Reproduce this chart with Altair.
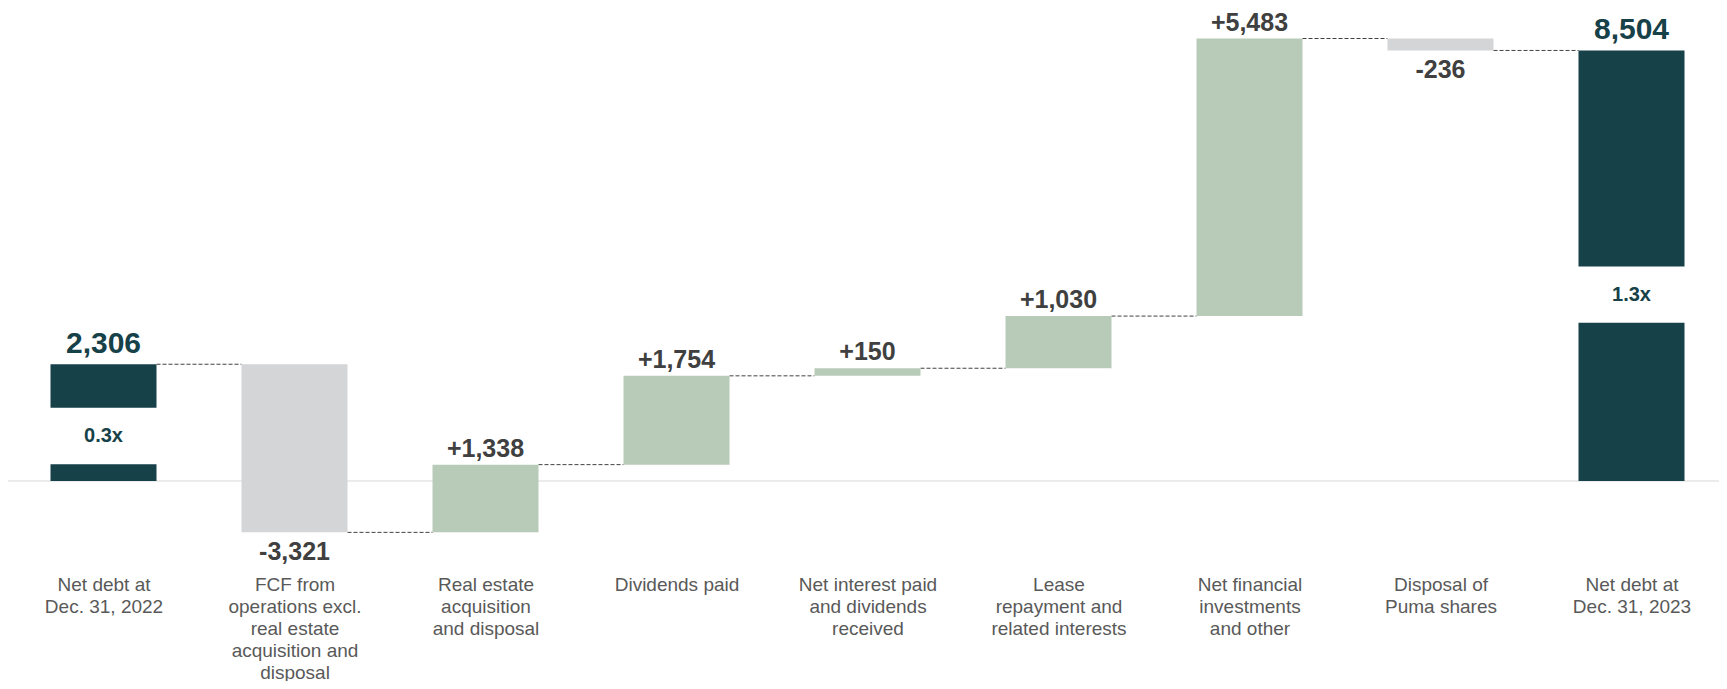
import json
import altair as alt
import pandas as pd

# ---- data ----
categories = [
    "Net debt at\nDec. 31, 2022",
    "FCF from\noperations excl.\nreal estate\nacquisition and\ndisposal",
    "Real estate\nacquisition\nand disposal",
    "Dividends paid",
    "Net interest paid\nand dividends\nreceived",
    "Lease\nrepayment and\nrelated interests",
    "Net financial\ninvestments\nand other",
    "Disposal of\nPuma shares",
    "Net debt at\nDec. 31, 2023",
]
kinds = ["total", "decrease", "increase", "increase", "increase",
         "increase", "increase", "decrease", "total"]
amounts = [2306, -3321, 1338, 1754, 150, 1030, 5483, -236, 8504]
leverage_labels = ["0.3x", "", "", "", "", "", "", "", "1.3x"]
leverage_gap_low = [332, None, None, None, None, None, None, None, 3125]
leverage_gap_high = [1445, None, None, None, None, None, None, None, 4238]

kind_domain = ["total", "increase", "decrease"]
kind_colors = ["#174148", "#B7CBB8", "#D4D5D7"]

# ---- build the waterfall table ----
rows = []
running = 0
for i, (cat, kind, amt) in enumerate(zip(categories, kinds, amounts)):
    if kind == "total":
        start, end = 0, amt
        label = f"{amt:,}"
    else:
        start, end = running, running + amt
        label = f"{amt:+,}"
    running = end
    rows.append({
        "idx": i, "kind": kind, "start": start, "end": end,
        "lo": min(start, end), "hi": max(start, end), "label": label,
        "lev": leverage_labels[i], "gap_lo": leverage_gap_low[i],
        "gap_hi": leverage_gap_high[i],
    })
df = pd.DataFrame(rows)
conn = df.iloc[:-1].copy()

HW = 0.2775
PLOT_W = 1711
PLOT_H = 561
STEP = 191
xscale = alt.Scale(domain=[-0.5, -0.5 + PLOT_W / STEP], nice=False, zero=False)
yscale = alt.Scale(domain=[-1778, 9303], nice=False, zero=False)
label_arr = json.dumps([c.split("\n") for c in categories])

base = alt.Chart(df).transform_calculate(
    xa=f"datum.idx - {HW}", xb=f"datum.idx + {HW}",
    ga=f"datum.idx - {HW} - 0.01", gb=f"datum.idx + {HW} + 0.01",
)

zero = alt.Chart(pd.DataFrame({"y": [0]})).mark_rule(
    color="#D9D9D9", strokeWidth=1
).encode(y=alt.Y("y:Q", scale=yscale, axis=None))

connectors = alt.Chart(conn).transform_calculate(
    xa=f"datum.idx + {HW}", xb=f"datum.idx + 1 - {HW}"
).mark_rule(color="#404040", strokeWidth=1, strokeDash=[4, 2]).encode(
    x=alt.X("xa:Q", scale=xscale, title=None),
    x2="xb:Q",
    y=alt.Y("end:Q", scale=yscale, axis=None),
)

bars = base.mark_bar().encode(
    x=alt.X("xa:Q", scale=xscale, title=None,
            axis=alt.Axis(values=list(range(9)),
                          labelExpr=f"{label_arr}[datum.value]",
                          grid=False, domain=False, ticks=False,
                          labelFontSize=19, labelColor="#595959",
                          labelFont="Liberation Sans",
                          labelLineHeight=22, labelPadding=4,
                          labelOverlap=False, labelFlush=False,
                          labelBound=False)),
    x2="xb:Q",
    y=alt.Y("lo:Q", scale=yscale, axis=None),
    y2="hi:Q",
    color=alt.Color("kind:N", scale=alt.Scale(domain=kind_domain, range=kind_colors), legend=None),
)

gaps = base.transform_filter("datum.lev != ''").mark_bar(color="white").encode(
    x=alt.X("ga:Q", scale=xscale, title=None), x2="gb:Q",
    y=alt.Y("gap_lo:Q", scale=yscale, axis=None), y2="gap_hi:Q",
)

lev_text = base.transform_filter("datum.lev != ''").transform_calculate(
    mid="(datum.gap_lo + datum.gap_hi) / 2"
).mark_text(font="Liberation Sans", fontSize=20, fontWeight="bold",
            color="#174148", baseline="middle").encode(
    x=alt.X("idx:Q", scale=xscale, title=None),
    y=alt.Y("mid:Q", scale=yscale, axis=None),
    text="lev:N",
)

up_text = base.transform_filter("datum.kind == 'increase'").mark_text(
    font="Liberation Sans", fontSize=25, fontWeight="bold", color="#404040",
    baseline="alphabetic", dy=-8
).encode(
    x=alt.X("idx:Q", scale=xscale, title=None),
    y=alt.Y("hi:Q", scale=yscale, axis=None),
    text="label:N",
)

down_text = base.transform_filter("datum.kind == 'decrease'").mark_text(
    font="Liberation Sans", fontSize=25, fontWeight="bold", color="#404040",
    baseline="top", dy=8
).encode(
    x=alt.X("idx:Q", scale=xscale, title=None),
    y=alt.Y("lo:Q", scale=yscale, axis=None),
    text="label:N",
)

total_text = base.transform_filter("datum.kind == 'total'").mark_text(
    font="Liberation Sans", fontSize=30, fontWeight="bold", color="#174148",
    baseline="alphabetic", dy=-11
).encode(
    x=alt.X("idx:Q", scale=xscale, title=None),
    y=alt.Y("hi:Q", scale=yscale, axis=None),
    text="label:N",
)

chart = alt.layer(
    zero, connectors, bars, gaps, lev_text, up_text, down_text, total_text
).properties(
    width=PLOT_W, height=PLOT_H,
    autosize=alt.AutoSizeParams(type="none"),
    padding={"left": 0, "top": 2, "right": 0, "bottom": 110},
).configure_view(stroke=None)

chart.save("out.html", embed_options={"renderer": "svg", "actions": False})
